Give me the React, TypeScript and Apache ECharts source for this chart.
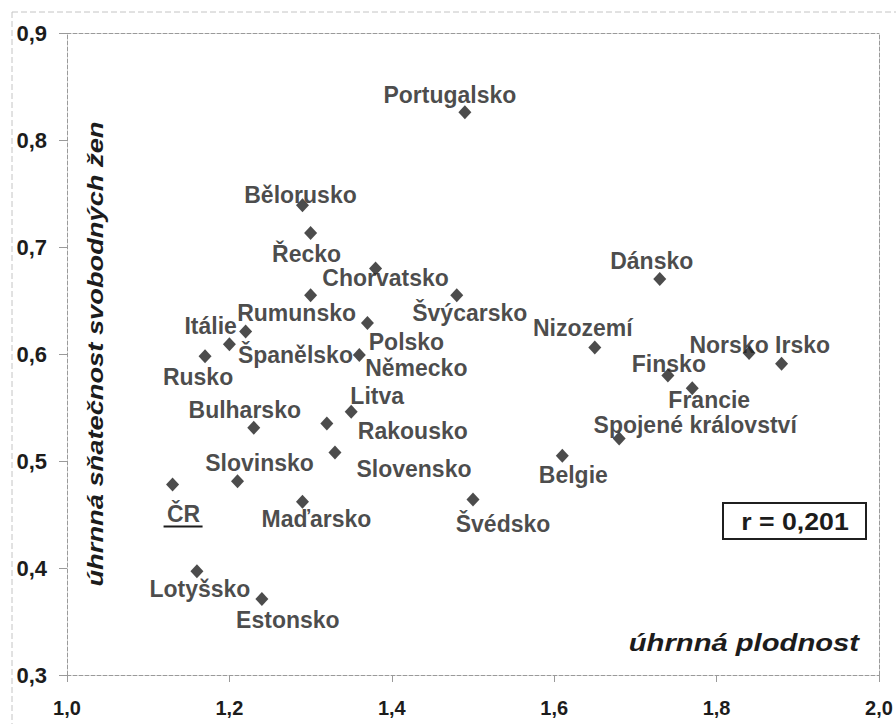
import React, { useEffect, useRef } from "react";
import * as echarts from "echarts";

const countries = [
  "Portugalsko", "Bělorusko", "Řecko", "Chorvatsko", "Rumunsko", "Švýcarsko",
  "Polsko", "Itálie", "Španělsko", "Rusko", "Německo", "Litva", "Rakousko",
  "Bulharsko", "Slovensko", "Slovinsko", "ČR", "Maďarsko", "Lotyšsko",
  "Estonsko", "Švédsko", "Belgie", "Spojené království", "Francie", "Finsko",
  "Norsko", "Irsko", "Nizozemí", "Dánsko",
];
const fertility = [
  1.49, 1.29, 1.30, 1.38, 1.30, 1.48, 1.37, 1.22, 1.20, 1.17, 1.36, 1.35, 1.32,
  1.23, 1.33, 1.21, 1.13, 1.29, 1.16, 1.24, 1.50, 1.61, 1.68, 1.77, 1.74, 1.84,
  1.88, 1.65, 1.73,
];
const marriage = [
  0.826, 0.739, 0.713, 0.680, 0.655, 0.655, 0.629, 0.621, 0.609, 0.598, 0.599,
  0.546, 0.535, 0.531, 0.508, 0.481, 0.478, 0.462, 0.397, 0.371, 0.464, 0.505,
  0.521, 0.568, 0.580, 0.601, 0.591, 0.606, 0.670,
];
const xTicks = ["1,0", "1,2", "1,4", "1,6", "1,8", "2,0"];
const correlationText = "r = 0,201";
const xTitle = "úhrnná plodnost";
const yTitle = "úhrnná sňatečnost svobodných žen";

// label placement (pixel offsets of label centre from the marker)
const labelOffsets: Record<string, [number, number]> = {
  Portugalsko: [-15, -17],
  "Bělorusko": [-2, -10],
  "Řecko": [-4, 21],
  Chorvatsko: [10, 10],
  Rumunsko: [-14, 18],
  "Švýcarsko": [13, 18],
  Polsko: [39, 19],
  "Itálie": [-35, -6],
  "Španělsko": [66, 11],
  Rusko: [-7, 21],
  "Německo": [57, 13],
  Litva: [26, -16],
  Rakousko: [86, 7],
  Bulharsko: [-9, -18],
  Slovensko: [79, 17],
  Slovinsko: [22, -18],
  "ČR": [11, 29],
  "Maďarsko": [14, 17],
  "Lotyšsko": [3, 18],
  Estonsko: [26, 21],
  "Švédsko": [30, 24],
  Belgie: [11, 19],
  "Spojené království": [76, -14],
  Francie: [17, 12],
  Finsko: [1, -11],
  Norsko: [-20, -8],
  Irsko: [21, -19],
  "Nizozemí": [-12, -20],
  "Dánsko": [-8, -18],
};

const FONT = "'Liberation Sans', Arial, sans-serif";
const TEXT = "#1c1c1c";
const AXIS = "#9a9a9a";

export default function App() {
  const ref = useRef<HTMLDivElement>(null);
  useEffect(() => {
    if (!ref.current) return;
    const chart = echarts.init(ref.current, null, { renderer: "svg" });
    const points = countries.map((n, i) => ({ name: n, value: [fertility[i], marriage[i]] }));
    const labelData = countries.map((n, i) => ({
      name: n,
      value: [fertility[i], marriage[i]],
      label: { offset: labelOffsets[n] || [0, 0] },
    }));
    const option: any = {
      animation: false,
      backgroundColor: "#ffffff",
      grid: { left: 67, top: 33, right: 17, bottom: 49 },
      xAxis: [
        {
          type: "value", min: 1.0, max: 2.0, interval: 0.2,
          axisLine: { show: true, onZero: false, lineStyle: { color: AXIS, type: "dashed", width: 1 } },
          axisTick: { show: true, length: 7, lineStyle: { color: AXIS } },
          splitLine: { show: false },
          axisLabel: {
            margin: 23, color: TEXT, fontFamily: FONT, fontWeight: "bold", fontSize: 20,
            formatter: (v: number) => xTicks[Math.round((v - 1) / 0.2)] ?? "",
          },
        },
        {
          type: "value", min: 1.0, max: 2.0, position: "top",
          axisLine: { show: true, lineStyle: { color: AXIS, type: "dashed", width: 1 } },
          axisTick: { show: false }, axisLabel: { show: false }, splitLine: { show: false },
        },
      ],
      yAxis: [
        {
          type: "value", min: 0.3, max: 0.9, interval: 0.1,
          axisLine: { show: true, onZero: false, lineStyle: { color: AXIS, type: "dashed", width: 1 } },
          axisTick: { show: true, length: 8, lineStyle: { color: AXIS } },
          splitLine: { show: false },
          axisLabel: {
            margin: 20, color: TEXT, fontFamily: FONT, fontWeight: "bold", fontSize: 22,
            formatter: (v: number) => v.toFixed(1).replace(".", ","),
          },
        },
        {
          type: "value", min: 0.3, max: 0.9, position: "right",
          axisLine: { show: true, lineStyle: { color: AXIS, type: "dashed", width: 1 } },
          axisTick: { show: false }, axisLabel: { show: false }, splitLine: { show: false },
        },
      ],
      series: [
        {
          type: "scatter", name: "labels", z: 2,
          symbolSize: 0,
          itemStyle: { color: "transparent" },
          data: labelData,
          label: {
            show: true, position: "inside", formatter: "{b}",
            color: TEXT, fontFamily: FONT, fontWeight: "bold", fontSize: 23,
            align: "center", verticalAlign: "middle",
          },
        },
        {
          type: "scatter", name: "points", z: 3,
          symbol: "diamond", symbolSize: [13, 14],
          itemStyle: { color: "#1f1f1f" },
          data: points,
        },
      ],
      graphic: [
        { type: "line", shape: { x1: 12, y1: 12, x2: 896, y2: 12 }, style: { stroke: "#c4c4c4", lineWidth: 1, lineDash: [6, 3] } },
        { type: "line", shape: { x1: 12, y1: 12, x2: 12, y2: 724 }, style: { stroke: "#c4c4c4", lineWidth: 1, lineDash: [6, 3] } },
        {
          type: "text", x: 95, y: 354, rotation: Math.PI / 2, scaleX: 1.24,
          style: {
            text: yTitle, fill: TEXT, font: `italic bold 22px ${FONT}`,
            align: "center", verticalAlign: "middle",
          },
        },
        {
          type: "text", x: 859, y: 643, scaleX: 1.27,
          style: {
            text: xTitle, fill: TEXT, font: `italic bold 23px ${FONT}`,
            align: "right", verticalAlign: "middle",
          },
        },
        {
          type: "rect", shape: { x: 723, y: 503, width: 143, height: 36 },
          style: { fill: "#ffffff", stroke: "#1f1f1f", lineWidth: 2 },
        },
        {
          type: "text", x: 795, y: 522, scaleX: 1.16,
          style: {
            text: correlationText, fill: TEXT, font: `bold 23px ${FONT}`,
            align: "center", verticalAlign: "middle",
          },
        },
      ],
    };
    chart.setOption(option);
    const crIdx = countries.indexOf("ČR");
    const p = chart.convertToPixel({ gridIndex: 0 }, [fertility[crIdx], marriage[crIdx]]) as number[];
    if (p) {
      const g = option.graphic.slice();
      g.push({
        type: "line",
        shape: { x1: p[0] - 9, y1: p[1] + 42, x2: p[0] + 30, y2: p[1] + 42 },
        style: { stroke: TEXT, lineWidth: 2 },
      });
      chart.setOption({ graphic: g });
    }
    return () => chart.dispose();
  }, []);
  return (
    <div
      ref={ref}
      style={{ position: "fixed", left: 0, top: 0, width: 896, height: 724 }}
    />
  );
}
